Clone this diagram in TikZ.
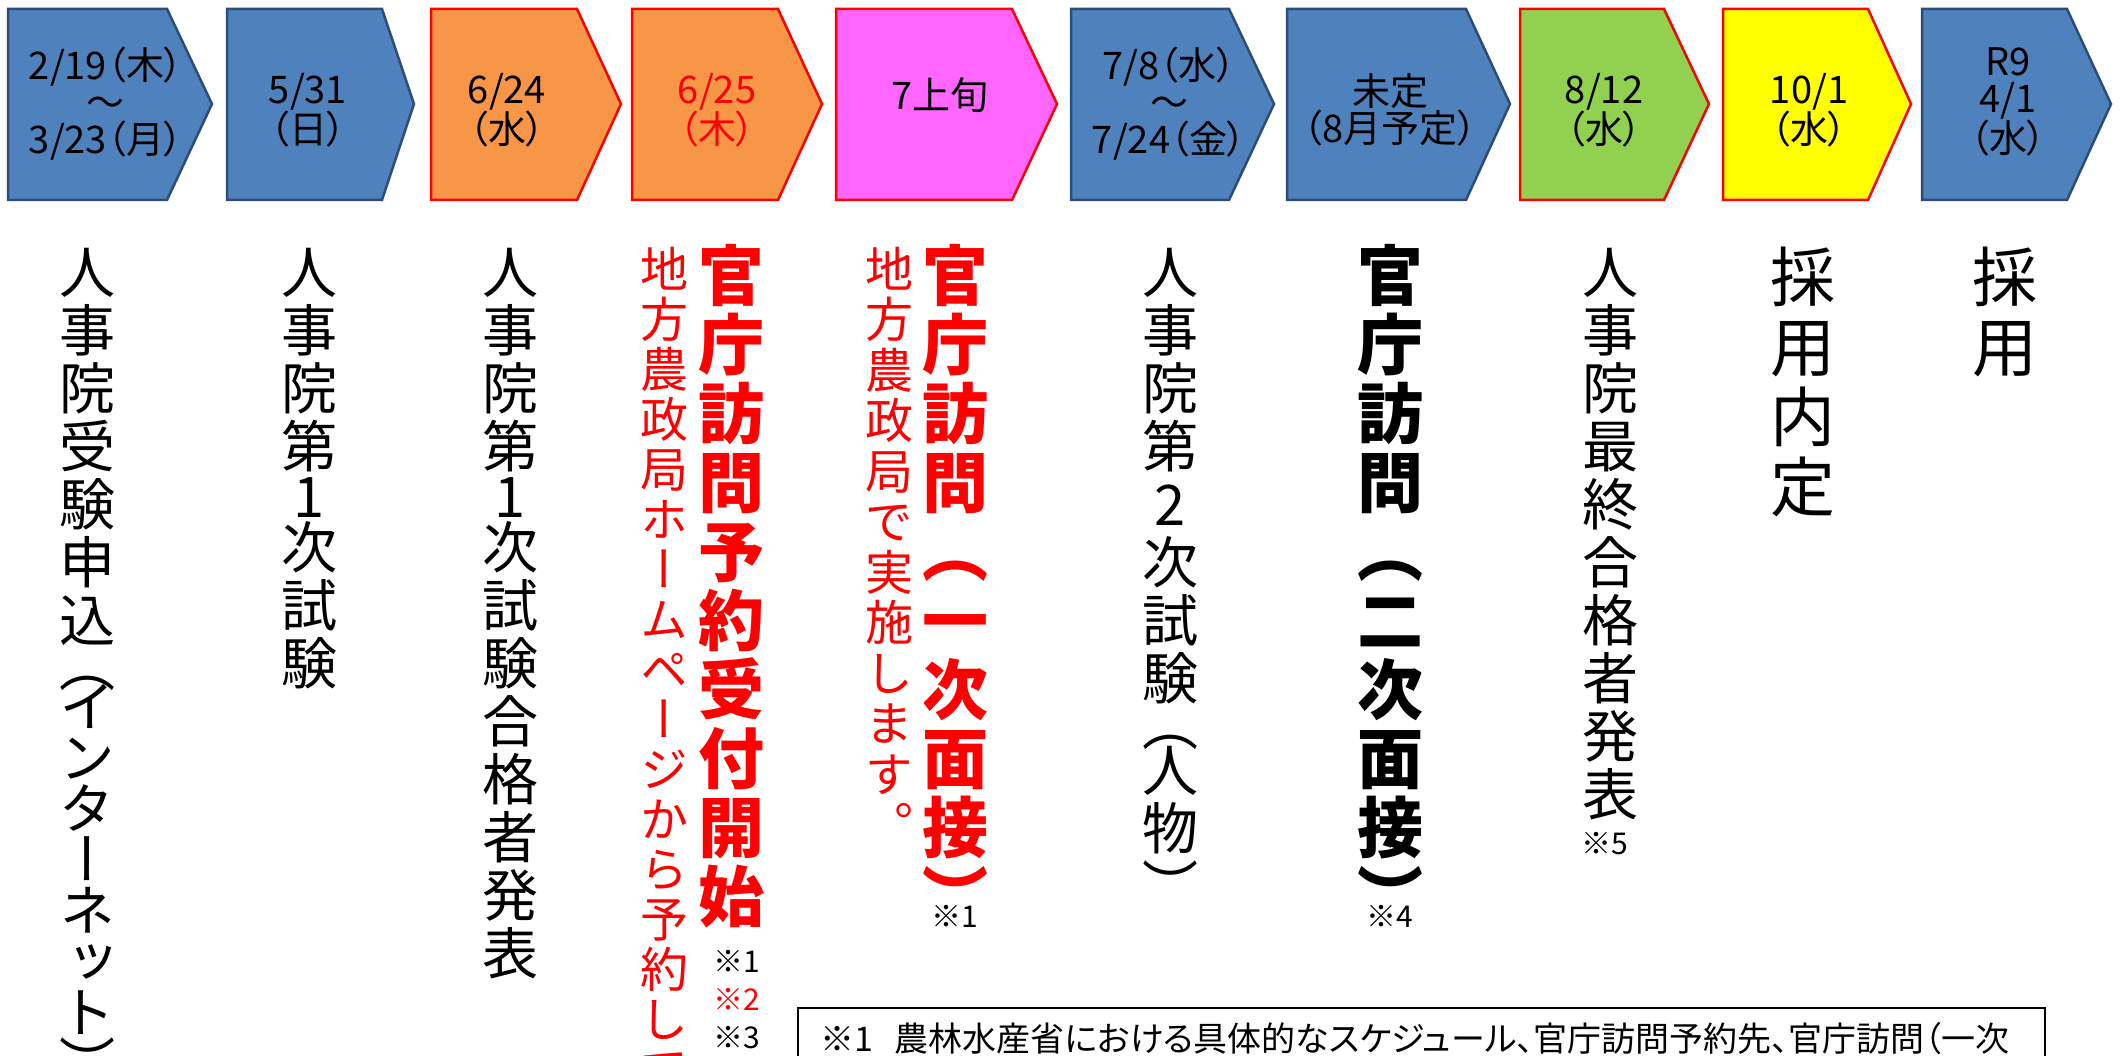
\documentclass[tikz,border=0pt]{standalone}
\usepackage{fontspec}
\usetikzlibrary{positioning}
\newfontfamily\yoko[RawFeature=+palt]{Noto Sans CJK JP}
\newfontfamily\tate[RawFeature=+vert]{Noto Sans CJK JP}
\definecolor{boxblue}{HTML}{4F81BD}
\definecolor{boxnavy}{HTML}{2C4D75}
\definecolor{boxorange}{HTML}{F79646}
\definecolor{boxpink}{HTML}{FF66FF}
\definecolor{boxgreen}{HTML}{92D050}
\definecolor{boxyellow}{HTML}{FFFF00}
% vertical text: one cell per character
\newlength\tatepitch
\newcommand\tatecell[1]{\vbox to\tatepitch{\vss\hbox to1.2em{\hss\vrule height.88em depth.12em width0pt\relax#1\hss}\vss}}
\def\tateloop#1{\ifx#1\relax\else\tatecell{#1}\expandafter\tateloop\fi}
\newcommand\tatecol[2]{\setlength\tatepitch{#1}\vbox{\offinterlineskip\tateloop#2\relax}}
\tikzset{
    every node/.style={inner sep=0pt,outer sep=0pt},
    datebox/.style={line width=2.5pt,line join=miter},
    datelabel/.style={font=\yoko\fontsize{38}{37}\selectfont,align=center},
    col/.style={anchor=north,font=\tate\fontsize{56}{56}\selectfont},
    redcol/.style={anchor=north,text=red,font=\tate\fontsize{48}{48}\selectfont},
    boldcol/.style={anchor=north,font=\tate\bfseries\fontsize{66}{66}\selectfont},
    bigcol/.style={anchor=north,font=\tate\fontsize{65}{65}\selectfont},
    note/.style={font=\yoko\fontsize{30}{30}\selectfont}
}
\begin{document}
\begin{tikzpicture}[x=1pt,y=-1pt]
    \useasboundingbox (0,0) rectangle (2121,1056);
    \fill[white] (0,0) rectangle (2121,1056);
    \clip (0,0) rectangle (2121,1056);

    % date arrows
    \foreach \l/\b/\t/\f/\d in {8/167/212/boxblue/boxnavy,227/382/414/boxblue/boxnavy,
        431/577/621/boxorange/red,632/778/822/boxorange/red,836/1012/1057/boxpink/red,
        1071/1229/1274/boxblue/boxnavy,1287/1466/1510/boxblue/boxnavy,
        1520/1664/1709/boxgreen/red,1723/1868/1911/boxyellow/red,1922/2067/2111/boxblue/boxnavy}
        \draw[datebox,fill=\f,draw=\d] (\l,9) -- (\b,9) -- (\t,104) -- (\b,200) -- (\l,200) -- cycle;

    \node[datelabel] (d1) at (106,104) {2/19（木）\\～\\3/23（月）};
    \node[datelabel] (d2) at (308,110) {5/31\\（日）};
    \node[datelabel] (d3) at (507,110) {6/24\\（水）};
    \node[datelabel,text=red] (d4) at (717,110) {6/25\\（木）};
    \node[datelabel] (d5) at (940,95) {7上旬};
    \node[datelabel] (d6) at (1169,104) {7/8（水）\\～\\7/24（金）};
    \node[datelabel] (d7) at (1390,110) {未定\\（8月予定）};
    \node[datelabel] (d8) at (1604,110) {8/12\\（水）};
    \node[datelabel] (d9) at (1809,110) {10/1\\（水）};
    \node[datelabel] (d10) at (2008,102) {R9\\4/1\\（水）};

    % vertical columns
    \node[col] (c1) at (87,243) {\tatecol{58pt}{人事院受験申込}};
    \node[col,below=0pt of c1] (c1p) {\tatecol{32pt}{（}};
    \node[col,below=0pt of c1p] (c1k) {\tatecol{51pt}{インターネット）}};

    \node[col] (c2) at (309,243) {\tatecol{58pt}{人事院第}};
    \node[col,below=0pt of c2] (c2n) {\tatecol{43pt}{1}};
    \node[col,below=0pt of c2n] (c2k) {\tatecol{58pt}{次試験}};

    \node[col] (c3) at (510,243) {\tatecol{58pt}{人事院第}};
    \node[col,below=0pt of c3] (c3n) {\tatecol{43pt}{1}};
    \node[col,below=0pt of c3n] (c3k) {\tatecol{58pt}{次試験合格者発表}};

    \node[redcol] (c4a) at (664,244) {\tatecol{50pt}{地方農政局ホームページから予約して}};
    \node[boldcol,text=red] (c4b) at (731,241) {\tatecol{69pt}{官庁訪問予約受付開始}};
    \node[note] (n1) at (737,961) {※1};
    \node[note,text=red] (n2) at (737,999) {※2};
    \node[note] (n3) at (737,1038) {※3};

    \node[redcol] (c5a) at (889,244) {\tatecol{50.5pt}{地方農政局で実施します。}};
    \node[boldcol,text=red] (c5b) at (955,241) {\tatecol{69pt}{官庁訪問（一次面接）}};
    \node[note] (n4) at (955,916) {※1};

    \node[col] (c6) at (1170,243) {\tatecol{58pt}{人事院第2次試験}};
    \node[col,below=0pt of c6] (c6p) {\tatecol{34pt}{（}};
    \node[col,below=0pt of c6p] (c6k) {\tatecol{58pt}{人物）}};

    \node[boldcol] (c7) at (1390,241) {\tatecol{69pt}{官庁訪問（二次面接）}};
    \node[note] (n5) at (1390,916) {※4};

    \node[col] (c8) at (1610,243) {\tatecol{58pt}{人事院最終合格者発表}};
    \node[note] (n6) at (1605,844) {※5};

    \node[bigcol] (c9) at (1803,242) {\tatecol{70pt}{採用内定}};
    \node[bigcol] (c10) at (2005,242) {\tatecol{70pt}{採用}};

    % footnote box
    \draw[line width=2.5pt] (798,1008) rectangle (2045,1130);
    \node[anchor=base west,font=\yoko\fontsize{34}{34}\selectfont] (fn) at (820,1051)
        {※1\hspace{22pt}農林水産省における具体的なスケジュール、官庁訪問予約先、官庁訪問（一次};
\end{tikzpicture}
\end{document}
